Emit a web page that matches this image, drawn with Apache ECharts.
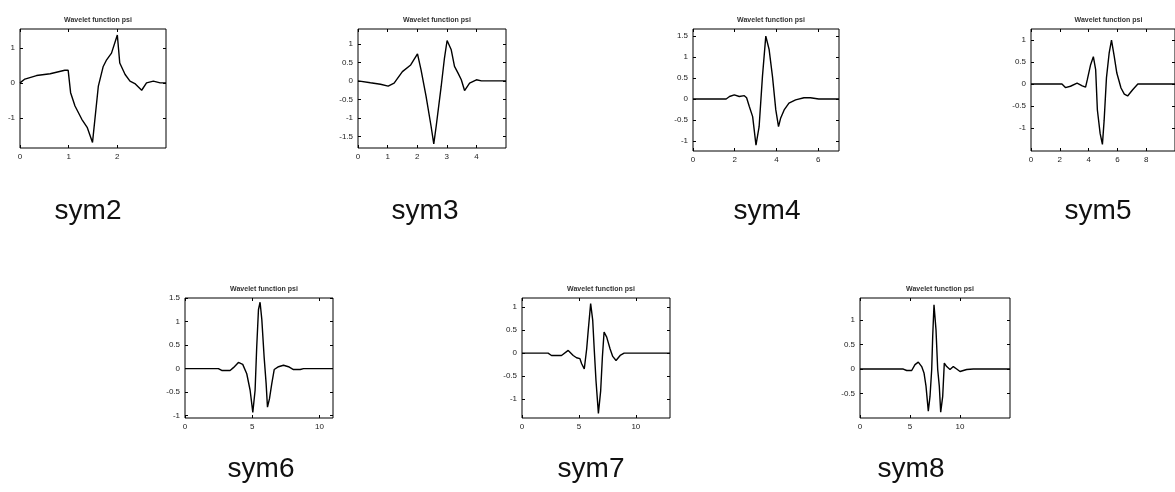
<!DOCTYPE html>
<html><head><meta charset="utf-8">
<script src="https://cdn.jsdelivr.net/npm/echarts@6/dist/echarts.min.js"></script>
<style>html,body{margin:0;padding:0;background:#fff}#c{width:1175px;height:492px}</style>
</head><body><div id="c"></div>
<script>
// ---- data ----
const names = ['sym2','sym3','sym4','sym5','sym6','sym7','sym8'];
const titleText = 'Wavelet function psi';

const sym2X = [0,0.1,0.34,0.62,0.92,0.99,1.04,1.13,1.27,1.38,1.49,1.61,1.71,1.78,1.88,2.0,2.05,2.16,2.26,2.36,2.5,2.6,2.74,2.88,3];
const sym2Y = [0,0.11,0.21,0.26,0.36,0.36,-0.28,-0.66,-1.04,-1.27,-1.70,-0.09,0.47,0.66,0.85,1.37,0.57,0.24,0.05,-0.02,-0.21,0,0.05,0,0];

const sym3X = [0,0.42,0.76,1.02,1.22,1.5,1.78,2.01,2.13,2.3,2.47,2.56,2.64,2.81,2.92,3.01,3.15,3.26,3.38,3.49,3.6,3.77,4.0,4.17,5];
const sym3Y = [0,-0.05,-0.09,-0.14,-0.06,0.25,0.43,0.73,0.30,-0.42,-1.23,-1.70,-1.23,-0.15,0.61,1.09,0.84,0.39,0.21,0.03,-0.26,-0.06,0.03,0,0];

const sym4X = [0,1.59,1.75,1.98,2.22,2.46,2.57,2.7,2.86,3.02,3.17,3.33,3.49,3.65,3.81,3.97,4.1,4.2,4.37,4.6,4.92,5.32,5.63,6.03,7];
const sym4Y = [0,0,0.06,0.1,0.06,0.08,0.03,-0.18,-0.42,-1.1,-0.66,0.54,1.5,1.18,0.54,-0.26,-0.66,-0.46,-0.26,-0.1,-0.02,0.03,0.03,0,0];

const sym5X = [0,2.15,2.39,2.74,3.2,3.56,3.79,3.91,4.14,4.33,4.49,4.61,4.8,4.96,5.08,5.24,5.43,5.59,5.78,5.96,6.25,6.48,6.71,7.06,7.42,10];
const sym5Y = [0,0,-0.08,-0.05,0.02,-0.04,-0.07,0.1,0.44,0.62,0.33,-0.59,-1.12,-1.37,-0.82,0.14,0.71,1.0,0.63,0.25,-0.09,-0.23,-0.27,-0.13,0,0];

const sym6X = [0,2.48,2.73,3.35,3.6,3.97,4.29,4.59,4.84,5.04,5.21,5.33,5.46,5.58,5.71,5.88,6.03,6.13,6.28,6.45,6.63,6.95,7.32,7.69,8.06,8.56,8.81,11];
const sym6Y = [0,0,-0.04,-0.04,0.02,0.13,0.09,-0.11,-0.46,-0.93,-0.46,0.46,1.25,1.41,1.04,0.25,-0.32,-0.82,-0.64,-0.32,-0.02,0.04,0.07,0.04,-0.02,-0.02,0,0];

const sym7X = [0,2.29,2.59,3.47,4.06,4.5,4.79,5.09,5.24,5.47,5.68,5.82,6.03,6.21,6.35,6.5,6.71,6.91,7.06,7.21,7.44,7.74,7.97,8.26,8.62,8.97,13];
const sym7Y = [0,0,-0.05,-0.05,0.06,-0.05,-0.1,-0.12,-0.23,-0.34,0.09,0.5,1.08,0.72,0.06,-0.6,-1.31,-0.82,-0.09,0.46,0.35,0.09,-0.07,-0.16,-0.05,0,0];

const sym8X = [0,4.33,4.67,5.17,5.5,5.83,6.17,6.4,6.6,6.83,7.0,7.17,7.27,7.4,7.6,7.77,7.93,8.07,8.27,8.43,8.67,9.0,9.33,9.67,10,10.67,11.33,15];
const sym8Y = [0,0,-0.03,-0.03,0.09,0.14,0.05,-0.08,-0.35,-0.86,-0.56,-0.01,0.67,1.31,0.8,-0.01,-0.35,-0.88,-0.56,0.12,0.05,-0.01,0.05,0,-0.05,-0.01,0,0];

// tick labels
const sym2XTicks = [0,1,2],        sym2YTicks = [-1,0,1];
const sym3XTicks = [0,1,2,3,4],    sym3YTicks = [-1.5,-1,-0.5,0,0.5,1];
const sym4XTicks = [0,2,4,6],      sym4YTicks = [-1,-0.5,0,0.5,1,1.5];
const sym5XTicks = [0,2,4,6,8],    sym5YTicks = [-1,-0.5,0,0.5,1];
const sym6XTicks = [0,5,10],       sym6YTicks = [-1,-0.5,0,0.5,1,1.5];
const sym7XTicks = [0,5,10],       sym7YTicks = [-1,-0.5,0,0.5,1];
const sym8XTicks = [0,5,10],       sym8YTicks = [-0.5,0,0.5,1];

// axis extents
const xRanges = [[0,3],[0,5],[0,7],[0,10],[0,11],[0,13],[0,15]];
const yRanges = [[-1.86,1.54],[-1.81,1.4],[-1.24,1.67],[-1.52,1.25],[-1.05,1.5],[-1.41,1.2],[-1.0,1.45]];

// ---- layout ----
const boxes = [[20,29,146,119],[358,29,148,119],[693,29,146,122],[1031,29,145,122],[185,298,148,120],[522,298,148,120],[860,298,150,120]];
const labelPos = [[88,211],[425,211],[767,211],[1098,211],[261,469],[591,469],[911,469]];

const xs = [sym2X,sym3X,sym4X,sym5X,sym6X,sym7X,sym8X];
const ys = [sym2Y,sym3Y,sym4Y,sym5Y,sym6Y,sym7Y,sym8Y];
const xt = [sym2XTicks,sym3XTicks,sym4XTicks,sym5XTicks,sym6XTicks,sym7XTicks,sym8XTicks];
const yt = [sym2YTicks,sym3YTicks,sym4YTicks,sym5YTicks,sym6YTicks,sym7YTicks,sym8YTicks];

const grid=[], xAxis=[], yAxis=[], series=[], title=[], graphic=[];
const lab = {fontSize:8, color:'#222', fontFamily:'Liberation Sans, Arial, sans-serif'};
const noLine = {show:false, onZero:false};
names.forEach((n,i)=>{
  const b = boxes[i];
  grid.push({left:b[0], top:b[1], width:b[2], height:b[3], show:true, borderColor:'#000', borderWidth:1, backgroundColor:'transparent'});
  const tick = {show:true, inside:true, length:3, lineStyle:{color:'#000'}};
  xAxis.push({type:'value', gridIndex:i, min:xRanges[i][0], max:xRanges[i][1], position:'bottom',
    axisLine:noLine, splitLine:{show:false},
    axisTick:Object.assign({customValues:xt[i]},tick),
    axisLabel:Object.assign({customValues:xt[i], margin:5},lab)});
  xAxis.push({type:'value', gridIndex:i, min:xRanges[i][0], max:xRanges[i][1], position:'top',
    axisLine:noLine, splitLine:{show:false},
    axisTick:Object.assign({customValues:xt[i]},tick), axisLabel:{show:false}});
  yAxis.push({type:'value', gridIndex:i, min:yRanges[i][0], max:yRanges[i][1], position:'left',
    axisLine:noLine, splitLine:{show:false},
    axisTick:Object.assign({customValues:yt[i]},tick),
    axisLabel:Object.assign({customValues:yt[i], margin:5},lab)});
  yAxis.push({type:'value', gridIndex:i, min:yRanges[i][0], max:yRanges[i][1], position:'right',
    axisLine:noLine, splitLine:{show:false},
    axisTick:Object.assign({customValues:yt[i]},tick), axisLabel:{show:false}});
  series.push({type:'line', xAxisIndex:2*i, yAxisIndex:2*i, data:xs[i].map((x,k)=>[x,ys[i][k]]),
    showSymbol:false, symbol:'none', lineStyle:{color:'#000', width:1.4}, silent:true, animation:false});
  title.push({text:titleText, left:b[0]+b[2]/2, top:b[1]-17, textAlign:'center',
    textStyle:{fontSize:7, fontWeight:'bold', color:'#333', fontFamily:'Liberation Sans, Arial, sans-serif'}});
  graphic.push({type:'text', x:labelPos[i][0], y:labelPos[i][1],
    style:{text:n, x:0, y:0, align:'center', verticalAlign:'middle',
      font:'28px "Liberation Sans", Arial, sans-serif', fill:'#111'}});
});

const chart = echarts.init(document.getElementById('c'));
chart.setOption({animation:false, grid, xAxis, yAxis, series, title, graphic});
</script></body></html>
